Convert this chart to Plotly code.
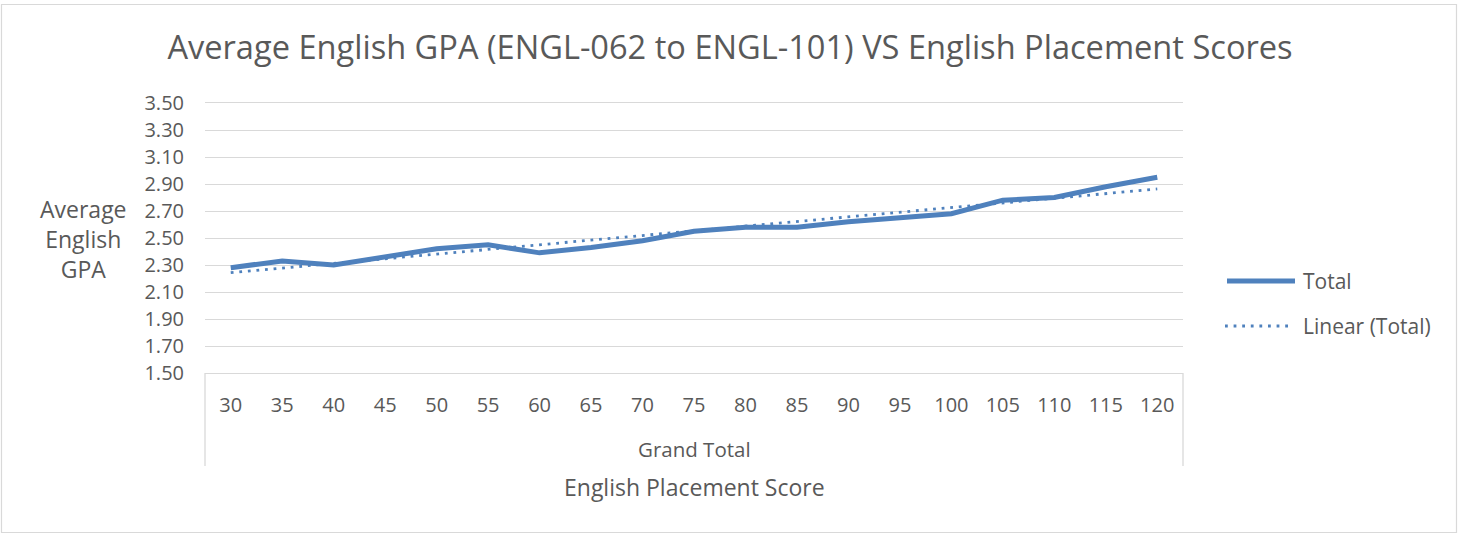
import numpy as np
import plotly.graph_objects as go

# ---- data ----
scores = ["30", "35", "40", "45", "50", "55", "60", "65", "70", "75",
          "80", "85", "90", "95", "100", "105", "110", "115", "120"]
total_gpa = [2.28, 2.33, 2.30, 2.36, 2.42, 2.45, 2.39, 2.43, 2.48, 2.55,
             2.58, 2.58, 2.62, 2.65, 2.68, 2.78, 2.80, 2.88, 2.95]
series_names = ["Total", "Linear (Total)"]
y_ticks = [1.50, 1.70, 1.90, 2.10, 2.30, 2.50, 2.70, 2.90, 3.10, 3.30, 3.50]

title_text = "Average English GPA (ENGL-062 to ENGL-101) VS English Placement Scores"
y_title = "Average<br>English<br>GPA"
group_label = "Grand Total"
x_title = "English Placement Score"

# linear trendline from the data (Excel-style)
idx = np.arange(len(total_gpa))
slope, intercept = np.polyfit(idx, total_gpa, 1)
trend = slope * idx + intercept

# ---- layout geometry ----
W, H = 1458, 535
L, R, T, B = 205, 275, 103, 162
PW, PH = W - L - R, H - T - B

def px(x):
    return (x - L) / PW

def py(y):
    return (H - B - y) / PH

BLUE = "#4F81BD"
GRID = "#D9D9D9"
TXT = "#595959"
FONT = "Open Sans"

fig = go.Figure()
fig.add_trace(go.Scatter(x=scores, y=total_gpa, mode="lines", name=series_names[0],
                         line=dict(color=BLUE, width=5), showlegend=False))
fig.add_trace(go.Scatter(x=scores, y=trend, mode="lines", name=series_names[1],
                         line=dict(color=BLUE, width=2.8, dash="2.8px,5.8px"), showlegend=False))

shapes = [
    # outer chart border
    dict(type="rect", xref="paper", yref="paper", x0=px(1.5), x1=px(1456.5),
         y0=py(532.5), y1=py(4.5), line=dict(color=GRID, width=1.2), layer="below"),
    # category box verticals
    dict(type="line", xref="paper", yref="paper", x0=0, x1=0, y0=0, y1=py(466),
         line=dict(color=GRID, width=1.3)),
    dict(type="line", xref="paper", yref="paper", x0=1, x1=1, y0=0, y1=py(466),
         line=dict(color=GRID, width=1.3)),
    # legend samples
    dict(type="line", xref="paper", yref="paper", x0=px(1227), x1=px(1295),
         y0=py(281), y1=py(281), line=dict(color=BLUE, width=5)),
    dict(type="line", xref="paper", yref="paper", x0=px(1225), x1=px(1292),
         y0=py(326), y1=py(326), line=dict(color=BLUE, width=2.8, dash="2.8px,5.8px")),
]

annotations = [
    dict(text=y_title, xref="paper", yref="paper", x=px(83), y=py(239),
         xanchor="center", yanchor="middle", showarrow=False, align="center",
         font=dict(family=FONT, size=23, color=TXT)),
    dict(text=group_label, xref="paper", yref="paper", x=0.5, y=py(449),
         xanchor="center", yanchor="middle", showarrow=False,
         font=dict(family=FONT, size=20.5, color=TXT)),
    dict(text=x_title, xref="paper", yref="paper", x=0.5, y=py(487),
         xanchor="center", yanchor="middle", showarrow=False,
         font=dict(family=FONT, size=23, color=TXT)),
    dict(text=series_names[0], xref="paper", yref="paper", x=px(1301), y=py(281),
         xanchor="left", yanchor="middle", showarrow=False,
         font=dict(family=FONT, size=21, color=TXT)),
    dict(text=series_names[1], xref="paper", yref="paper", x=px(1301), y=py(326),
         xanchor="left", yanchor="middle", showarrow=False,
         font=dict(family=FONT, size=21, color=TXT)),
]

fig.update_layout(
    width=W, height=H,
    margin=dict(l=L, r=R, t=T, b=B, pad=0),
    paper_bgcolor="white", plot_bgcolor="white",
    title=dict(text=title_text, x=730 / W, xref="container",
               xanchor="center", y=1 - 48 / H, yanchor="middle",
               font=dict(family=FONT, size=32.6, color=TXT)),
    font=dict(family=FONT, color=TXT),
    shapes=shapes, annotations=annotations,
    showlegend=False,
)
fig.update_xaxes(type="category", range=[-0.5, len(scores) - 0.5],
                 showgrid=False, showline=True, mirror=True, linecolor=GRID, linewidth=1.3,
                 zeroline=False, ticks="", ticklabelstandoff=14,
                 tickfont=dict(family=FONT, size=20, color=TXT))
fig.update_yaxes(range=[1.5, 3.5], tickvals=y_ticks, tickformat=".2f",
                 showgrid=True, gridcolor=GRID, gridwidth=1.3, zeroline=False,
                 showline=False, ticks="", ticklabelstandoff=20,
                 tickfont=dict(family=FONT, size=20, color=TXT))

fig.write_html("out.html", config={"displayModeBar": False},
               post_script="document.body.style.margin='0';")
